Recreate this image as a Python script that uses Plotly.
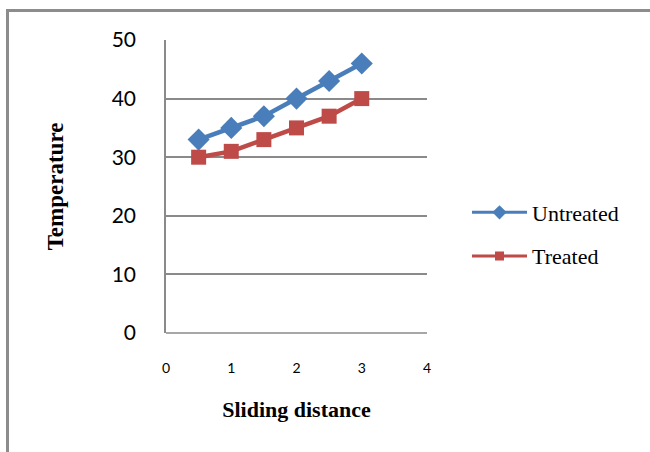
import plotly.graph_objects as go

distance = [0.5, 1, 1.5, 2, 2.5, 3]
untreated = [33, 35, 37, 40, 43, 46]
treated = [30, 31, 33, 35, 37, 40]
x_ticks = [0, 1, 2, 3, 4]
y_ticks = [0, 10, 20, 30, 40, 50]
series_names = ["Untreated", "Treated"]

BLUE = "#4A7EBB"
RED = "#BE4B48"
GRID = "#8a8a8a"

fig = go.Figure()
fig.add_trace(go.Scatter(
    x=distance, y=untreated, name=series_names[0], mode="lines+markers",
    line=dict(color=BLUE, width=4.5), showlegend=False,
    marker=dict(symbol="diamond", size=17, color=BLUE),
))
fig.add_trace(go.Scatter(
    x=distance, y=treated, name=series_names[1], mode="lines+markers",
    line=dict(color=RED, width=4.5), showlegend=False,
    marker=dict(symbol="square", size=15, color=RED),
))
# legend entries (smaller symbols, as in the reference legend)
fig.add_trace(go.Scatter(
    x=[None], y=[None], name=series_names[0], mode="lines+markers",
    legendgroup="a", line=dict(color=BLUE, width=3),
    marker=dict(symbol="diamond", size=11, color=BLUE),
))
fig.add_trace(go.Scatter(
    x=[None], y=[None], name=series_names[1], mode="lines+markers",
    legendgroup="b", line=dict(color=RED, width=3),
    marker=dict(symbol="square", size=9, color=RED),
))

L, T, R, B = 166, 40, 427, 333
W, H = 650, 452
pw, ph = R - L, B - T

fig.update_layout(
    width=W, height=H,
    margin=dict(l=L, r=W - R, t=T, b=H - B, pad=0),
    paper_bgcolor="white", plot_bgcolor="white",
    showlegend=True,
    legend=dict(
        x=(467 - L) / pw, y=(B - 234.5) / ph, xanchor="left", yanchor="middle",
        yref="paper",
        font=dict(family="Liberation Serif", size=22, color="black"),
        itemwidth=55, tracegroupgap=12, bgcolor="rgba(0,0,0,0)",
    ),
    xaxis=dict(
        range=[0, 4], tickvals=x_ticks, showgrid=False, zeroline=False,
        showline=False, ticks="",
        tickfont=dict(family="Lato", size=14, color="black"),
        ticklabelstandoff=25,
        title=dict(text="<b>Sliding distance</b>", standoff=26,
                   font=dict(family="Liberation Serif", size=22, color="black")),
    ),
    yaxis=dict(
        range=[0, 50], tickvals=y_ticks, showgrid=True, gridcolor=GRID,
        gridwidth=1.5, zeroline=False, showline=True, linecolor=GRID,
        linewidth=1.5, ticks="",
        tickfont=dict(family="Lato", size=21, color="black"),
        ticklabelstandoff=24,
        title=dict(text="<b>Temperature</b>", standoff=42,
                   font=dict(family="Liberation Serif", size=23, color="black")),
    ),
    shapes=[
        dict(type="line", xref="paper", yref="paper", x0=0, x1=1, y0=0, y1=0,
             line=dict(color=GRID, width=1.5), layer="below"),
        dict(type="rect", xref="paper", yref="paper",
             x0=(7.5 - L) / pw, x1=(700 - L) / pw,
             y0=-(600 - B) / ph, y1=1 + (T - 10.5) / ph,
             line=dict(color="#8c8c8c", width=3)),
    ],
)
fig.write_html("out.html")
